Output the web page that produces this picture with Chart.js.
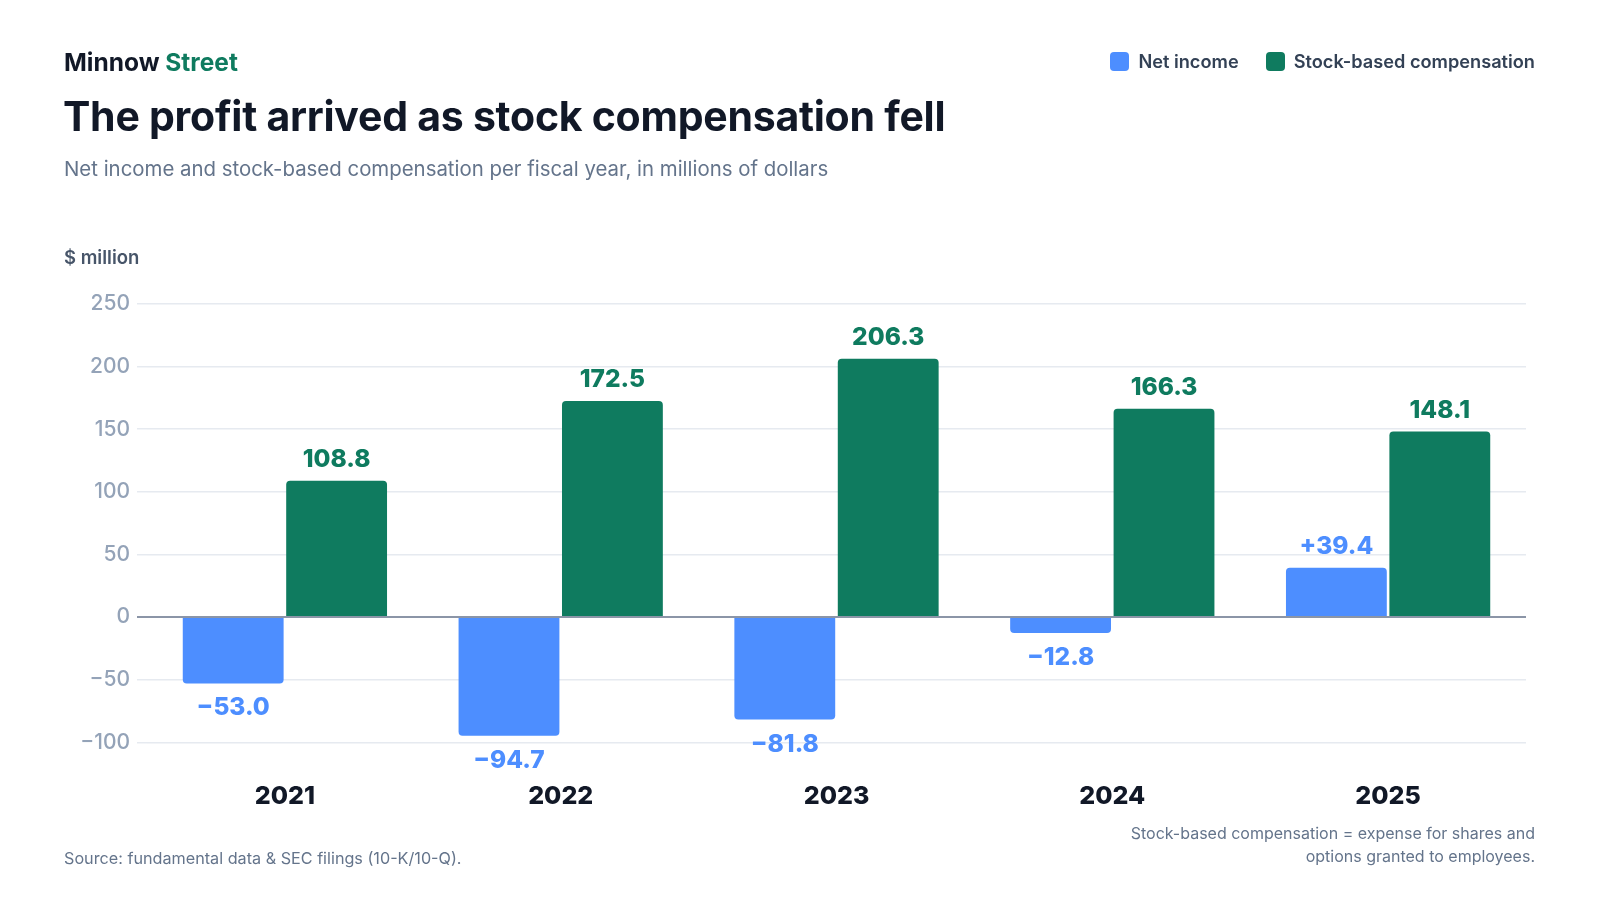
<!DOCTYPE html>
<html>
<head>
<meta charset="utf-8">
<script src="https://cdn.jsdelivr.net/npm/chart.js@4.4.1/dist/chart.umd.min.js"></script>
<style>
  html, body { margin:0; padding:0; background:#ffffff; }
  body { width:1600px; height:900px; position:relative; overflow:hidden; font-family: Inter, "Noto Sans", sans-serif; }
  .t { position:absolute; line-height:1; white-space:nowrap; }
  #brand { left:64px; top:50px; font-size:24.5px; font-weight:700; color:#111827; }
  #brand span { color:#0f7b5f; }
  #title { left:63px; top:96px; font-size:41px; font-weight:700; color:#111827; letter-spacing:-0.25px; }
  #subtitle { left:64px; top:159.4px; font-size:20.4px; font-weight:400; color:#64748b; }
  #unit { left:64px; top:248px; font-size:18.5px; font-weight:600; color:#475569; }
  #legend { right:65px; top:52px; display:flex; align-items:center; font-size:18.2px; font-weight:600; color:#334155; }
  #legend .item { display:flex; align-items:center; }
  #legend .sw { width:19px; height:19px; border-radius:4px; margin-right:9px; }
  #legend .item + .item { margin-left:27px; }
  #note { right:65px; top:821.7px; font-size:16px; color:#64748b; text-align:right; line-height:23.5px; }
  #source { left:64px; top:850px; font-size:16.2px; color:#64748b; }
  #wrap { position:absolute; left:0; top:0; width:1600px; height:900px; }
</style>
</head>
<body>
<div id="wrap"><canvas id="c" width="1600" height="900"></canvas></div>
<div class="t" id="brand">Minnow <span>Street</span></div>
<div class="t" id="title">The profit arrived as stock compensation fell</div>
<div class="t" id="subtitle">Net income and stock-based compensation per fiscal year, in millions of dollars</div>
<div class="t" id="unit">$ million</div>
<div class="t" id="legend"></div>
<div class="t" id="note">Stock-based compensation = expense for shares and<br>options granted to employees.</div>
<div class="t" id="source">Source: fundamental data &amp; SEC filings (10-K/10-Q).</div>
<script>
const years = ["2021", "2022", "2023", "2024", "2025"];
const netIncome = [-53.0, -94.7, -81.8, -12.8, 39.4];
const stockComp = [108.8, 172.5, 206.3, 166.3, 148.1];
const seriesNames = ["Net income", "Stock-based compensation"];
const seriesColors = ["#4d8eff", "#0f7b5f"];
const yMin = -100, yMax = 250, yStep = 50;

const MINUS = "\u2212";
function fmtTick(v) { return v < 0 ? MINUS + Math.abs(v) : String(v); }
function fmtNI(v) { return (v < 0 ? MINUS : "+") + Math.abs(v).toFixed(1); }
function fmtSC(v) { return v.toFixed(1); }

// legend
const leg = document.getElementById("legend");
seriesNames.forEach((n, i) => {
  const it = document.createElement("div");
  it.className = "item";
  it.innerHTML = '<div class="sw" style="background:' + seriesColors[i] + '"></div><div>' + n + '</div>';
  leg.appendChild(it);
});

const labelPlugin = {
  id: "valueLabels",
  afterDatasetsDraw(chart) {
    const ctx = chart.ctx;
    const ys = chart.scales.y;
    const area = chart.chartArea;
    ctx.save();
    // zero baseline above bars
    const y0 = Math.round(ys.getPixelForValue(0));
    ctx.strokeStyle = "#8b95a7";
    ctx.lineWidth = 2;
    ctx.beginPath();
    ctx.moveTo(area.left - 10, y0);
    ctx.lineTo(area.right, y0);
    ctx.stroke();

    ctx.font = "800 24.5px Inter";
    ctx.textAlign = "center";
    ctx.textBaseline = "alphabetic";
    chart.data.datasets.forEach((ds, di) => {
      const meta = chart.getDatasetMeta(di);
      meta.data.forEach((bar, i) => {
        const v = ds.data[i];
        const txt = di === 0 ? fmtNI(v) : fmtSC(v);
        ctx.fillStyle = seriesColors[di];
        if (v >= 0) {
          ctx.fillText(txt, bar.x, bar.y - 14);
        } else {
          ctx.fillText(txt, bar.x, bar.y + 32);
        }
      });
    });
    ctx.restore();
  }
};

new Chart(document.getElementById("c"), {
  type: "bar",
  data: {
    labels: years,
    datasets: [
      { label: seriesNames[0], data: netIncome, backgroundColor: seriesColors[0] },
      { label: seriesNames[1], data: stockComp, backgroundColor: seriesColors[1] }
    ]
  },
  options: {
    responsive: false,
    animation: false,
    devicePixelRatio: 1,
    layout: { padding: { left: 0, right: 74, top: 304, bottom: 0 } },
    datasets: { bar: { categoryPercentage: 0.75, barPercentage: 0.975, borderRadius: 4, borderSkipped: "start" } },
    plugins: { legend: { display: false }, tooltip: { enabled: false } },
    scales: {
      x: {
        grid: { display: false, drawTicks: false },
        border: { display: false },
        ticks: { color: "#111827", font: { family: "Inter", size: 25, weight: "800" }, padding: 39 },
        afterFit(s) { s.height = 157.7; }
      },
      y: {
        min: yMin, max: yMax,
        ticks: { stepSize: yStep, color: "#94a3b8", font: { family: "Inter", size: 21, weight: "500" }, padding: 7, callback: fmtTick },
        grid: {
          color: (c) => c.tick && c.tick.value === 0 ? "rgba(0,0,0,0)" : "#e6eaf0",
          lineWidth: 1.5,
          tickLength: 10,
          drawTicks: true
        },
        border: { display: false },
        afterFit(s) { s.width = 147; }
      }
    }
  },
  plugins: [labelPlugin]
});
</script>
</body>
</html>
